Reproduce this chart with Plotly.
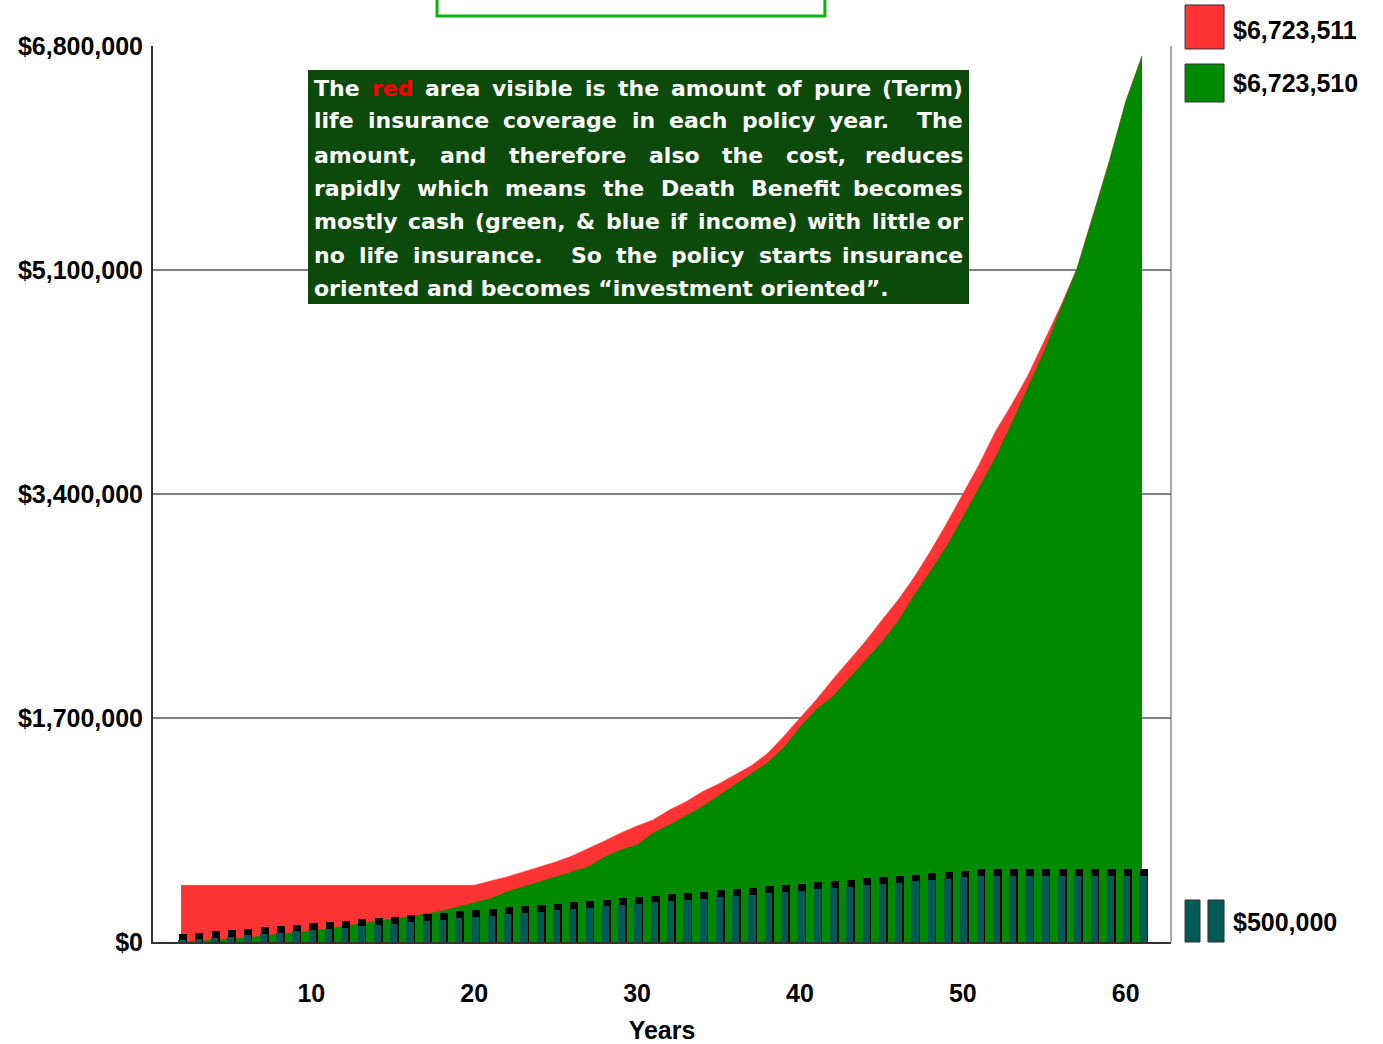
import plotly.graph_objects as go

# Policy years shown on the x axis
years = list(range(2, 62))

# Death benefit (total coverage) by policy year
death_benefit = [
    430000, 430000, 430000, 430000, 430000, 430000, 430000, 430000, 430000, 430000,
    430000, 430000, 430000, 430000, 430000, 430000, 430000, 430000, 430000,
    463000, 494000, 532000, 570000, 608000, 653000, 707000, 767000, 828000, 881000,
    927000, 1003000, 1064000, 1140000, 1200000, 1269000, 1337000, 1430000, 1560000, 1700000,
    1839000, 1991000, 2135000, 2279000, 2439000, 2591000, 2766000, 2963000, 3176000, 3404000,
    3624000, 3875000, 4080000, 4301000, 4559000, 4825000, 5110000, 5515000, 5930000, 6378000,
    6723511,
]

# Cash value by policy year
cash_value = [
    0, 4000, 15000, 23000, 30000, 46000, 61000, 68000, 84000, 99000,
    122000, 137000, 160000, 175000, 190000, 213000, 236000, 266000, 296000,
    330000, 380000, 418000, 456000, 494000, 532000, 570000, 646000, 699000, 737000,
    828000, 889000, 957000, 1026000, 1109000, 1193000, 1276000, 1360000, 1474000, 1630000,
    1765000, 1862000, 1998000, 2135000, 2272000, 2431000, 2629000, 2811000, 3001000, 3222000,
    3449000, 3677000, 3936000, 4209000, 4483000, 4802000, 5106000, 5509000, 5926000, 6375000,
    6723510,
]

# Cumulative premiums paid by policy year
premiums_paid = [
    10000, 20000, 30000, 40000, 50000, 60000, 70000, 80000, 90000, 100000,
    110000, 120000, 130000, 140000, 150000, 160000, 170000, 180000, 190000, 200000,
    210000, 220000, 230000, 240000, 250000, 260000, 270000, 280000, 290000, 300000,
    310000, 320000, 330000, 340000, 350000, 360000, 370000, 380000, 390000, 400000,
    410000, 420000, 430000, 440000, 450000, 460000, 470000, 480000, 490000, 500000,
    500000, 500000, 500000, 500000, 500000, 500000, 500000, 500000, 500000, 500000,
]

y_ticks = [0, 1700000, 3400000, 5100000, 6800000]
x_ticks = [10, 20, 30, 40, 50, 60]

RED = "#ff3333"
GREEN = "#008a00"
TEAL = "#005a55"
BOX_GREEN = "#0b4a0b"

LABEL_FONT = dict(family="Liberation Sans, Arial, sans-serif", size=25, color="black", weight="bold")
X_RANGE = [0.28, 62.78]
Y_RANGE = [0, 6800000]


def money(v):
    return "${:,.0f}".format(v)


fig = go.Figure()

fig.add_trace(go.Scatter(
    x=years, y=death_benefit, mode="lines", fill="tozeroy",
    line=dict(color=RED, width=0.5), fillcolor=RED, hoverinfo="skip",
))
fig.add_trace(go.Scatter(
    x=years, y=cash_value, mode="lines", fill="tozeroy",
    line=dict(color=GREEN, width=0.5), fillcolor=GREEN, hoverinfo="skip",
))

# Premium columns on an overlaid copy of the axes so they sit above the areas:
# a black depth block behind each teal column
depth = 52000
fig.add_trace(go.Bar(
    x=years, y=[v + depth for v in premiums_paid], width=0.5, offset=-0.12,
    marker=dict(color="black", line_width=0), hoverinfo="skip",
    xaxis="x2", yaxis="y2",
))
fig.add_trace(go.Bar(
    x=years, y=premiums_paid, width=0.44, offset=-0.16,
    marker=dict(color=TEAL, line_width=0), hoverinfo="skip",
    xaxis="x2", yaxis="y2",
))

fig.update_layout(
    width=1383, height=1044,
    margin=dict(l=153, r=212, t=46, b=102),
    plot_bgcolor="white", paper_bgcolor="white",
    showlegend=False, barmode="overlay", bargap=0,
    xaxis=dict(
        range=X_RANGE, tickmode="array", tickvals=x_ticks, automargin=False,
        showgrid=False, zeroline=False,
        showline=True, linecolor="#333333", linewidth=2,
        ticks="", tickfont=LABEL_FONT, ticklabelstandoff=28,
        title=dict(text="Years", font=LABEL_FONT, standoff=16),
    ),
    yaxis=dict(
        range=Y_RANGE, tickmode="array", tickvals=y_ticks, automargin=False,
        ticktext=[money(v) for v in y_ticks],
        showgrid=True, gridcolor="#808080", gridwidth=2, zeroline=False,
        showline=True, linecolor="#333333", linewidth=2,
        ticks="", tickfont=LABEL_FONT, ticklabelstandoff=3,
    ),
    xaxis2=dict(overlaying="x", range=X_RANGE, visible=False),
    yaxis2=dict(overlaying="y", range=Y_RANGE, visible=False),
)

# Right-hand frame edge
fig.add_shape(type="line", xref="paper", yref="paper", x0=1, x1=1, y0=0, y1=1,
              line=dict(color="#555555", width=1))

# Partially visible heading box along the top edge
fig.add_shape(type="rect", xref="paper", yref="paper",
              x0=0.279, x1=0.660, y0=1.0335, y1=1.08,
              line=dict(color="#10b010", width=3), fillcolor="white")

# Legend swatches with the final values
fig.add_shape(type="rect", xref="paper", yref="paper",
              x0=1.0138, x1=1.0521, y0=0.9967, y1=1.0458,
              line=dict(color="#333333", width=1), fillcolor=RED)
fig.add_shape(type="rect", xref="paper", yref="paper",
              x0=1.0138, x1=1.0521, y0=0.9375, y1=0.9799,
              line=dict(color="#333333", width=1), fillcolor=GREEN)
fig.add_shape(type="rect", xref="paper", yref="paper",
              x0=1.0138, x1=1.0285, y0=0.0, y1=0.0469,
              line=dict(color="#333333", width=1), fillcolor=TEAL)
fig.add_shape(type="rect", xref="paper", yref="paper",
              x0=1.0363, x1=1.0521, y0=0.0, y1=0.0469,
              line=dict(color="#333333", width=1), fillcolor=TEAL)

for text, ypos in [(money(death_benefit[-1]), 1.0179),
                   (money(cash_value[-1]), 0.9587),
                   (money(max(premiums_paid)), 0.0223)]:
    fig.add_annotation(text=text, xref="paper", yref="paper", x=1.0588, y=ypos,
                       xanchor="left", yanchor="middle", showarrow=False, font=LABEL_FONT)

# Explanatory note in a dark green panel, justified word by word
PLOT_L, PLOT_W, PLOT_B, PLOT_H = 153, 1018, 942, 896


def px_x(p):
    return (p - PLOT_L) / PLOT_W


def px_y(p):
    return (PLOT_B - p) / PLOT_H


fig.add_shape(type="rect", xref="paper", yref="paper",
              x0=px_x(308), x1=px_x(969), y0=px_y(304), y1=px_y(70),
              line=dict(width=0), fillcolor=BOX_GREEN, layer="above")

EM = {
    " ": 0.348, "a": 0.675, "b": 0.716, "c": 0.593, "d": 0.716, "e": 0.678, "f": 0.435,
    "g": 0.716, "h": 0.712, "i": 0.343, "j": 0.343, "k": 0.665, "l": 0.343, "m": 1.042,
    "n": 0.712, "o": 0.687, "p": 0.716, "q": 0.716, "r": 0.493, "s": 0.595, "t": 0.478,
    "u": 0.712, "v": 0.652, "w": 0.924, "x": 0.645, "y": 0.652, "z": 0.582,
    "T": 0.683, "S": 0.720, "D": 0.830, "B": 0.762, "(": 0.457, ")": 0.457,
    ",": 0.380, ".": 0.380, "&": 0.872, "\u201c": 0.560, "\u201d": 0.560,
}
NOTE_SIZE = 22
NOTE_LEFT, NOTE_RIGHT = 312, 965
NOTE_FONT = dict(family="DejaVu Sans", size=NOTE_SIZE, color="white", weight="bold")

note_lines = [
    ("The red area visible is the amount of pure (Term)", True),
    ("life insurance coverage in each policy year.  The", True),
    ("amount, and therefore also the cost, reduces", True),
    ("rapidly which means the Death Benefit becomes", True),
    ("mostly cash (green, & blue if income) with little or", True),
    ("no life insurance.  So the policy starts insurance", True),
    ("oriented and becomes \u201cinvestment oriented\u201d.", False),
]
note_y = [88, 121, 155, 188, 221, 255, 288]


def word_px(w):
    return sum(EM.get(ch, 0.65) for ch in w) * NOTE_SIZE


for (line, justify), yc in zip(note_lines, note_y):
    words = line.split(" ")
    if not justify:
        fig.add_annotation(text=line, xref="paper", yref="paper",
                           x=px_x(NOTE_LEFT), y=px_y(yc), xanchor="left", yanchor="middle",
                           showarrow=False, font=NOTE_FONT)
        continue
    total = sum(word_px(w) for w in words)
    gap = (NOTE_RIGHT - NOTE_LEFT - total) / (len(words) - 1)
    xpos = NOTE_LEFT
    for i, w in enumerate(words):
        if w:
            font = dict(NOTE_FONT)
            if i == 1 and w == "red":
                font["color"] = "#ff0000"
            last = i == len(words) - 1
            fig.add_annotation(text=w, xref="paper", yref="paper",
                               x=px_x(NOTE_RIGHT if last else xpos), y=px_y(yc),
                               xanchor="right" if last else "left", yanchor="middle",
                               showarrow=False, font=font)
        xpos += word_px(w) + gap

fig.write_html("out.html")
